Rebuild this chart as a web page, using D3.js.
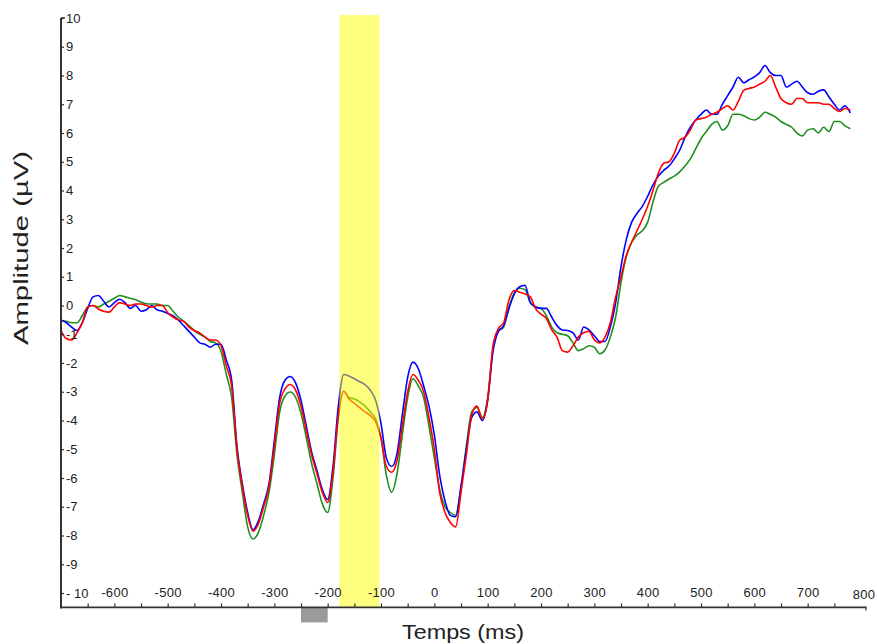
<!DOCTYPE html>
<html><head><meta charset="utf-8">
<script src="https://cdn.jsdelivr.net/npm/d3@7"></script>
<style>body{margin:0;background:#fff}text{font-family:"Liberation Sans",Arial,sans-serif}</style>
</head><body><svg id="c" width="877" height="644"></svg>
<script>
const times = [
-700,-690,-680,-670,-660,-650,-640,-630,-620,-610,
-600,-590,-580,-570,-560,-550,-540,-530,-520,-510,
-500,-490,-480,-470,-460,-450,-440,-430,-420,-410,
-400,-390,-380,-370,-360,-350,-340,-330,-320,-310,
-300,-290,-280,-270,-260,-250,-240,-230,-220,-210,
-200,-190,-180,-170,-160,-150,-140,-130,-120,-110,
-100,-90,-80,-70,-60,-50,-40,-30,-20,-10,
0,10,20,30,40,50,60,70,80,90,
100,110,120,130,140,150,160,170,180,190,
200,210,220,230,240,250,260,270,280,290,
300,310,320,330,340,350,360,370,380,390,
400,410,420,430,440,450,460,470,480,490,
500,510,520,530,540,550,560,570,580,590,
600,610,620,630,640,650,660,670,680,690,
700,710,720,730,740,750,760,770,780];

const blueSeries = [
-0.5,-0.6,-0.75,-0.87,-0.6,-0.1,0.3,0.35,0.15,-0.05,
0.1,0.22,0.1,-0.1,0.0,-0.2,-0.15,0.0,-0.15,-0.2,
-0.28,-0.35,-0.5,-0.7,-0.9,-1.1,-1.3,-1.35,-1.45,-1.35,
-1.35,-1.9,-2.6,-4.9,-6.2,-7.2,-7.8,-7.5,-6.9,-6.2,
-4.7,-3.2,-2.6,-2.47,-2.7,-3.3,-4.2,-5.1,-5.75,-6.4,
-6.75,-5.6,-3.5,-2.4,-2.45,-2.55,-2.65,-2.75,-2.95,-3.3,
-4.1,-5.3,-5.6,-5.15,-3.8,-2.5,-1.97,-2.2,-2.8,-3.5,
-4.5,-5.9,-6.8,-7.3,-7.35,-6.3,-5.0,-3.9,-3.7,-4.0,
-3.3,-1.6,-0.9,-0.7,-0.1,0.4,0.65,0.7,0.1,-0.05,
-0.1,-0.1,-0.4,-0.7,-0.85,-0.87,-0.95,-1.2,-0.75,-0.85,
-1.05,-1.25,-1.25,-0.75,0.1,1.35,2.3,2.9,3.2,3.45,
3.8,4.2,4.5,4.7,4.85,5.1,5.4,5.85,6.2,6.45,
6.65,6.8,6.65,6.65,7.0,7.3,7.6,7.94,7.75,7.85,
7.95,8.1,8.35,8.1,8.0,8.0,7.6,7.7,7.8,7.6,
7.4,7.35,7.45,7.5,7.25,7.0,6.8,6.95,6.7];

const redSeries = [
-0.87,-1.15,-1.2,-0.95,-0.6,-0.05,0.0,-0.12,-0.2,-0.23,
-0.05,0.1,0.05,0.0,0.05,0.05,0.0,-0.06,0.0,0.0,
-0.25,-0.4,-0.5,-0.55,-0.75,-0.87,-0.95,-1.1,-1.2,-1.2,
-1.4,-2.1,-2.8,-5.0,-6.3,-7.3,-7.85,-7.6,-7.0,-6.3,
-4.9,-3.4,-2.9,-2.75,-2.95,-3.5,-4.35,-5.2,-5.85,-6.5,
-6.85,-5.8,-3.8,-2.98,-3.25,-3.4,-3.55,-3.7,-3.83,-4.05,
-4.6,-5.6,-5.8,-5.39,-4.2,-3.0,-2.4,-2.6,-3.0,-3.9,
-5.0,-6.5,-7.2,-7.55,-7.7,-6.5,-5.2,-3.8,-3.5,-3.95,
-3.3,-1.4,-0.8,-0.6,0.2,0.52,0.46,0.4,0.3,-0.12,
-0.3,-0.45,-0.85,-1.1,-1.57,-1.62,-1.4,-1.1,-0.95,-0.9,
-1.2,-1.3,-1.1,-0.6,0.3,1.0,1.75,2.2,2.6,3.0,
3.45,4.0,4.6,4.95,5.0,5.3,5.75,5.85,6.1,6.45,
6.5,6.55,6.65,6.72,6.85,6.95,6.8,7.1,7.48,7.55,
7.6,7.7,7.8,8.0,7.6,7.2,7.05,7.0,7.2,7.2,
7.05,7.05,7.05,7.0,7.0,6.85,6.75,6.85,6.8];

const greenSeries = [
-0.52,-0.55,-0.6,-0.6,-0.35,-0.06,0.0,-0.05,0.05,0.15,
0.25,0.35,0.3,0.25,0.2,0.12,0.06,0.05,0.05,0.0,
0.0,-0.2,-0.4,-0.55,-0.7,-0.87,-1.0,-1.1,-1.25,-1.3,
-1.6,-2.4,-3.2,-5.2,-6.5,-7.7,-8.12,-7.9,-7.3,-6.5,
-5.2,-3.7,-3.15,-3.01,-3.2,-3.75,-4.6,-5.5,-6.2,-6.9,
-7.2,-6.0,-3.9,-2.98,-3.2,-3.25,-3.35,-3.5,-3.7,-3.95,
-4.6,-5.9,-6.5,-5.86,-4.5,-3.2,-2.55,-2.8,-3.2,-4.2,
-5.3,-6.4,-7.0,-7.2,-7.3,-6.3,-4.9,-3.7,-3.55,-3.9,
-3.2,-1.5,-0.9,-0.75,-0.05,0.45,0.6,0.55,0.1,-0.05,
-0.1,-0.35,-0.75,-0.95,-1.0,-1.05,-1.3,-1.57,-1.5,-1.4,
-1.45,-1.68,-1.55,-1.1,-0.4,0.8,1.7,2.2,2.45,2.6,
2.9,3.6,4.15,4.28,4.4,4.5,4.65,4.85,5.1,5.45,
5.8,6.05,6.3,6.4,6.1,6.25,6.65,6.65,6.6,6.5,
6.45,6.55,6.72,6.65,6.55,6.4,6.3,6.2,6.0,5.9,
6.1,6.15,6.0,6.2,6.05,6.4,6.4,6.25,6.15];

const yTickValues = [-10,-9,-8,-7,-6,-5,-4,-3,-2,-1,0,1,2,3,4,5,6,7,8,9,10];
const yTickLabels = ["- 10","-9","-8","-7","-6","-5","-4","-3","-2","-1","0","1","2","3","4","5","6","7","8","9","10"];
const xMinorTicks = [-650,-600,-550,-500,-450,-400,-350,-300,-250,-200,-150,-100,-50,0,50,100,150,200,250,300,350,400,450,500,550,600,650,700,750];
const xTickValues = [-600,-500,-400,-300,-200,-100,0,100,200,300,400,500,600,700,800];
const xTickLabels = ["-600","-500","-400","-300","-200","-100","0","100","200","300","400","500","600","700","800"];
const highlightWindow = [-178, -103];
const markerWindow = [-250, -200];
const seriesColors = {blue:"#0000ff", red:"#ff0000", green:"#1e8f1e"};

const svg = d3.select("#c");
const x = d3.scaleLinear().domain([-700, 800]).range([61, 861]);
const y = d3.scaleLinear().domain([-10, 10]).range([593, 18]);
const yBase = y(-10.5);

// lines
const line = d3.line().x((d,i)=>x(times[i])).y(d=>y(d)).curve(d3.curveMonotoneX);
[["green",greenSeries],["blue",blueSeries],["red",redSeries]].forEach(([k,s])=>{
  svg.append("path").datum(s).attr("d", line)
    .attr("fill","none").attr("stroke",seriesColors[k])
    .attr("stroke-width",1.6).attr("stroke-linejoin","round");
});

// yellow highlight (semi transparent over lines)
svg.append("rect")
  .attr("x", x(highlightWindow[0])).attr("width", x(highlightWindow[1]) - x(highlightWindow[0]))
  .attr("y", 15).attr("height", yBase - 15)
  .attr("fill", "#ffff00").attr("opacity", 0.5);

// gray marker below axis
svg.append("rect")
  .attr("x", x(markerWindow[0])).attr("width", x(markerWindow[1]) - x(markerWindow[0]))
  .attr("y", yBase).attr("height", 15)
  .attr("fill", "#9a9a9a");

// Y axis
const yAxis = d3.axisRight(y).tickValues(yTickValues).tickSize(3).tickPadding(2)
  .tickFormat((d,i)=>yTickLabels[i]);
const gy = svg.append("g").attr("transform", `translate(${x(-700)},0)`).call(yAxis);
gy.select(".domain").remove();
gy.selectAll(".tick line").attr("stroke","#333").attr("stroke-width",1.2);
gy.selectAll(".tick text").attr("font-size", 13).attr("fill","#222")
  .style("font-family","'Liberation Sans',Arial,sans-serif");
svg.append("line").attr("x1", x(-700)).attr("x2", x(-700))
  .attr("y1", y(10)).attr("y2", yBase + 1).attr("stroke","#333").attr("stroke-width",2);
svg.append("line").attr("x1", x(-700)).attr("x2", x(-700) + 4)
  .attr("y1", y(10)).attr("y2", y(10)).attr("stroke","#333").attr("stroke-width",1.5);

// X axis
const xMinor = d3.axisTop(x).tickValues(xMinorTicks).tickSize(4).tickFormat("");
const gxm = svg.append("g").attr("transform", `translate(0,${yBase})`).call(xMinor);
gxm.select(".domain").remove();
gxm.selectAll(".tick line").attr("stroke","#333").attr("stroke-width",1.2);

const xLab = d3.axisTop(x).tickValues(xTickValues).tickSize(0).tickPadding(10)
  .tickFormat((d,i)=>xTickLabels[i]);
const gxl = svg.append("g").attr("transform", `translate(0,${yBase})`).call(xLab);
gxl.select(".domain").remove();
gxl.selectAll(".tick text").attr("font-size", 13).attr("fill","#222")
  .attr("letter-spacing", "0.3")
  .style("font-family","'Liberation Sans',Arial,sans-serif");
gxl.selectAll(".tick text").filter(d=>d===800).attr("dx", "0.2em").attr("dy", "0.15em");

svg.append("line").attr("x1", x(-700) - 1).attr("x2", 866)
  .attr("y1", yBase).attr("y2", yBase).attr("stroke","#333").attr("stroke-width",1.6);
svg.append("line").attr("x1", 866).attr("x2", 866)
  .attr("y1", yBase - 1).attr("y2", yBase + 3).attr("stroke","#333").attr("stroke-width",1.2);

// axis titles
svg.append("text").attr("transform", "translate(28,248) rotate(-90)")
  .attr("text-anchor","middle").attr("font-size", 20).attr("fill","#222")
  .attr("textLength", 194).attr("lengthAdjust","spacingAndGlyphs")
  .text("Amplitude (µV)");
svg.append("text").attr("x", 463).attr("y", 639)
  .attr("text-anchor","middle").attr("font-size", 20).attr("fill","#222")
  .attr("textLength", 122).attr("lengthAdjust","spacingAndGlyphs")
  .text("Temps (ms)");
</script></body></html>
